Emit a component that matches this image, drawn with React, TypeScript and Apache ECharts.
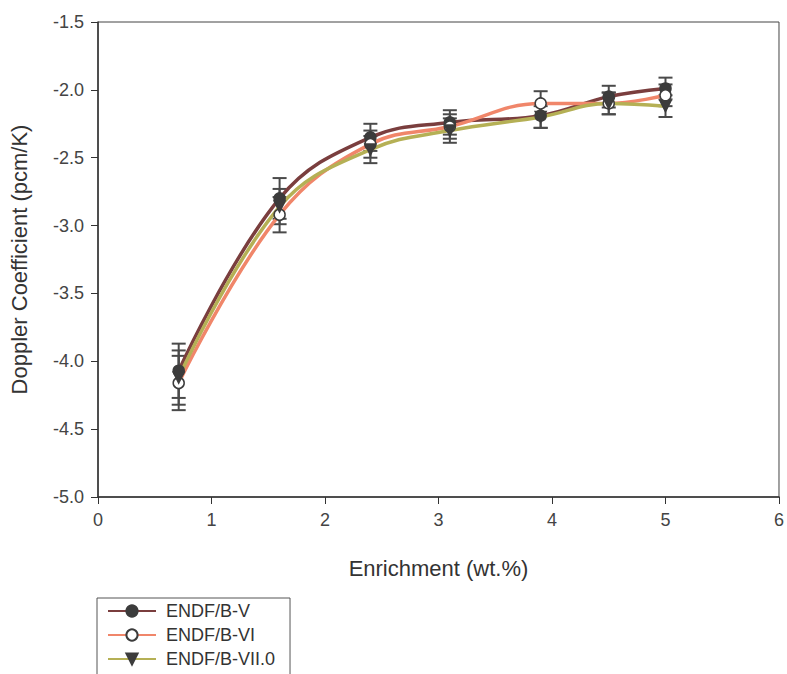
import React, { useEffect, useRef } from "react";
import * as echarts from "echarts";

const enrichment = [0.711, 1.6, 2.4, 3.1, 3.9, 4.5, 5.0];
const endfV = [-4.07, -2.8, -2.35, -2.24, -2.19, -2.05, -1.99];
const endfVI = [-4.16, -2.92, -2.4, -2.27, -2.1, -2.1, -2.04];
const endfVII = [-4.12, -2.86, -2.44, -2.3, -2.2, -2.1, -2.12];
const errV = [0.2, 0.15, 0.1, 0.09, 0.09, 0.08, 0.08];
const errVI = [0.2, 0.13, 0.1, 0.09, 0.09, 0.08, 0.08];
const errVII = [0.2, 0.13, 0.1, 0.09, 0.08, 0.08, 0.08];

const FONT = "Liberation Sans, Arial, sans-serif";
const MARK = "#3c3c3c";

function errSeries(name: string, vals: number[], errs: number[]) {
  return {
    type: "custom",
    name: name + " err",
    silent: true,
    z: 4,
    data: enrichment.map((x, i) => [x, vals[i], errs[i]]),
    renderItem: (params: any, api: any) => {
      const x = api.value(0);
      const y = api.value(1);
      const e = api.value(2);
      const top = api.coord([x, y + e]);
      const bot = api.coord([x, y - e]);
      const w = 7;
      const st = { stroke: "#4a4a4a", lineWidth: 2 };
      return {
        type: "group",
        children: [
          { type: "line", shape: { x1: top[0], y1: top[1], x2: bot[0], y2: bot[1] }, style: st },
          { type: "line", shape: { x1: top[0] - w, y1: top[1], x2: top[0] + w, y2: top[1] }, style: st },
          { type: "line", shape: { x1: bot[0] - w, y1: bot[1], x2: bot[0] + w, y2: bot[1] }, style: st },
        ],
      };
    },
  };
}

export default function App() {
  const ref = useRef<HTMLDivElement>(null);
  useEffect(() => {
    if (!ref.current) return;
    const chart = echarts.init(ref.current, undefined, { renderer: "svg" });
    const lineSeries = (
      name: string,
      vals: number[],
      color: string,
      symbol: string,
      fill: string,
      size: number,
      rotate: number
    ) => ({
      type: "line",
      name,
      smooth: 0.4,
      z: 5,
      data: enrichment.map((x, i) => [x, vals[i]]),
      symbol,
      symbolSize: size,
      symbolRotate: rotate,
      showAllSymbol: true,
      lineStyle: { color, width: 3.5 },
      itemStyle: { color: fill, borderColor: MARK, borderWidth: 1.5 },
    });
    chart.setOption({
      animation: false,
      backgroundColor: "#ffffff",
      textStyle: { fontFamily: FONT },
      grid: {
        left: 98,
        right: 7,
        top: 22,
        bottom: 203,
        show: true,
        borderColor: "#444",
        borderWidth: 1,
      },
      xAxis: {
        type: "value",
        min: 0,
        max: 6,
        interval: 1,
        name: "Enrichment (wt.%)",
        nameLocation: "middle",
        nameGap: 60,
        nameTextStyle: { fontSize: 22, color: "#333", fontFamily: FONT },
        axisLine: { lineStyle: { color: "#333", width: 1.5 } },
        axisTick: { show: true, length: 7, lineStyle: { color: "#333" } },
        axisLabel: { fontSize: 18, color: "#444", margin: 14, fontFamily: FONT },
        splitLine: { show: false },
      },
      yAxis: {
        type: "value",
        min: -5,
        max: -1.5,
        interval: 0.5,
        name: "Doppler Coefficient (pcm/K)",
        nameLocation: "middle",
        nameGap: 68,
        nameTextStyle: { fontSize: 22, color: "#333", fontFamily: FONT },
        axisLine: { show: true, lineStyle: { color: "#333", width: 1.5 } },
        axisTick: { show: true, length: 7, lineStyle: { color: "#333" } },
        axisLabel: {
          fontSize: 18,
          color: "#444",
          margin: 14,
          fontFamily: FONT,
          formatter: (v: number) => v.toFixed(1),
        },
        splitLine: { show: false },
      },
      legend: {
        orient: "vertical",
        left: 97,
        top: 598,
        itemWidth: 48,
        itemHeight: 14,
        itemGap: 6,
        padding: [4, 15, 30, 10],
        borderColor: "#555",
        borderWidth: 1,
        textStyle: {
          fontSize: 18,
          lineHeight: 18,
          color: "#333",
          fontFamily: FONT,
          padding: [0, 0, 0, 5],
        },
        data: ["ENDF/B-V", "ENDF/B-VI", "ENDF/B-VII.0"],
      },
      series: [
        errSeries("ENDF/B-V", endfV, errV),
        errSeries("ENDF/B-VI", endfVI, errVI),
        errSeries("ENDF/B-VII.0", endfVII, errVII),
        lineSeries("ENDF/B-V", endfV, "#7a3e3e", "circle", MARK, 11, 0),
        lineSeries("ENDF/B-VI", endfVI, "#f0866a", "circle", "#ffffff", 11, 0),
        lineSeries("ENDF/B-VII.0", endfVII, "#b5b055", "triangle", MARK, 11, 180),
      ],
    });
    return () => chart.dispose();
  }, []);
  return (
    <div
      ref={ref}
      style={{ position: "fixed", left: 0, top: 0, width: 787, height: 700 }}
    />
  );
}
